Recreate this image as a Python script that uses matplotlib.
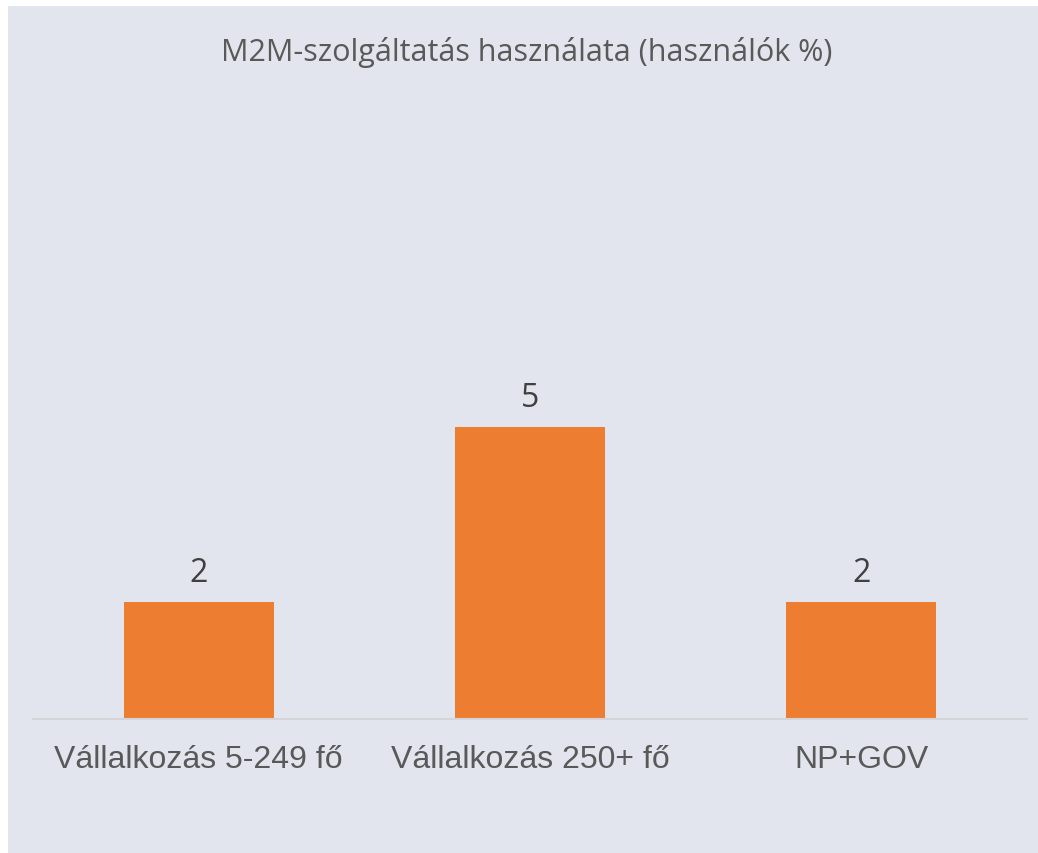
import matplotlib.pyplot as plt
from matplotlib.patches import Rectangle

categories = ["Vállalkozás 5-249 fő", "Vállalkozás 250+ fő", "NP+GOV"]
values = [2, 5, 2]
title = "M2M-szolgáltatás használata (használók %)"

bg = "#e2e5ed"
bar_color = "#ed7d31"

fig = plt.figure(figsize=(10.38, 8.54), dpi=100)
fig.patch.set_facecolor("white")
fig.patches.append(Rectangle((8 / 1038, -0.01), 1.0, 1.01 - 7 / 854,
                             transform=fig.transFigure, facecolor=bg,
                             edgecolor="none", zorder=0))

ax = fig.add_axes([33 / 1038, 134 / 854, 994 / 1038, 584 / 854])
ax.set_zorder(2)
ax.set_facecolor("none")
x = range(len(categories))
ax.bar(x, values, width=0.453, color=bar_color, zorder=2)
for xi, v in zip(x, values):
    ax.annotate(str(v), (xi, v), xytext=(0, 21), textcoords="offset pixels",
                ha="center", va="baseline", fontsize=23, color="#404040",
                family="Open Sans")

ax.set_xlim(-0.5, 2.5)
ax.set_ylim(0, 10)
ax.set_yticks([])
ax.set_xticks(list(x))
ax.set_xticklabels(categories, fontsize=23, color="#595959", family="Liberation Sans")
ax.tick_params(axis="x", length=0, pad=18)
for s in ["top", "right", "left"]:
    ax.spines[s].set_visible(False)
ax.spines["bottom"].set_color("#d4d5d9")
ax.spines["bottom"].set_linewidth(1.5)

fig.text(527 / 1038, 1 - 53 / 854, title, ha="center", va="center",
         fontsize=22, color="#595959", family="Open Sans", zorder=3)

fig.savefig("out.png", dpi=100, facecolor=fig.get_facecolor())
